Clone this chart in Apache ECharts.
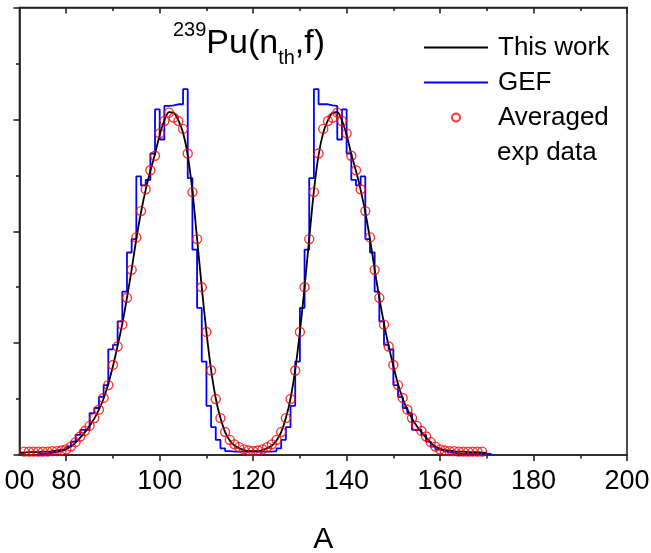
<!DOCTYPE html>
<html><head><meta charset="utf-8">
<script src="https://cdn.jsdelivr.net/npm/echarts@6/dist/echarts.min.js"></script>
<style>html,body{margin:0;padding:0;background:#fff}#c{width:651px;height:553px}</style>
</head><body><div id="c"></div>
<script>
// Mass number grid for the model curve ("This work")
const modelA = [70,71,72,73,74,75,76,77,78,79,80,81,82,83,84,85,86,87,88,89,90,91,92,93,94,95,96,97,98,99,
  100,101,102,103,104,105,106,107,108,109,110,111,112,113,114,115,116,117,118,119,120,
  121,122,123,124,125,126,127,128,129,130,131,132,133,134,135,136,137,138,139,140,
  141,142,143,144,145,146,147,148,149,150,151,152,153,154,155,156,157,158,159,160,
  161,162,163,164,165,166,167,168,169,170];
const thisWork = [0.04,0.04,0.05,0.05,0.05,0.06,0.06,0.07,0.08,0.09,
  0.11,0.15,0.22,0.31,0.41,0.52,0.65,0.81,1.01,1.27,
  1.59,1.95,2.35,2.81,3.32,3.86,4.34,4.74,5.08,5.38,
  5.72,5.98,6.13,6.12,5.98,5.76,5.36,4.72,3.87,3.00,
  2.20,1.52,1.01,0.66,0.41,0.26,0.17,0.12,0.09,0.07,
  0.07,
  0.07,0.09,0.12,0.17,0.26,0.41,0.66,1.01,1.52,2.20,
  3.00,3.87,4.72,5.36,5.76,5.98,6.12,6.13,5.98,5.72,
  5.38,5.08,4.74,4.34,3.86,3.32,2.81,2.35,1.95,1.59,
  1.27,1.01,0.81,0.65,0.52,0.41,0.31,0.22,0.15,0.11,
  0.09,0.08,0.07,0.06,0.06,0.05,0.05,0.05,0.04,0.04];

// GEF histogram: value for bin [A, A+1]
const gefA = [74,75,76,77,78,79,80,81,82,83,84,85,86,87,88,89,90,91,92,93,94,95,96,97,98,99,
  100,101,102,103,104,105,106,107,108,109,110,111,112,113,114,115,116,117,118,119,120,
  121,122,123,124,125,126,127,128,129,130,131,132,133,134,135,136,137,138,139,140,
  141,142,143,144,145,146,147,148,149,150,151,152,153,154,155,156,157,158,159,160,
  161,162,163,164,165,166,167,168,169,170,171];
const gefYield = [0.02,0.03,0.04,0.05,0.07,0.10,0.15,0.24,0.36,0.45,0.45,0.75,0.84,1.04,1.25,1.89,
  1.97,2.39,2.92,3.62,3.86,4.98,4.82,4.92,5.39,6.18,
  5.64,6.24,6.25,6.27,6.27,6.54,4.95,3.67,2.63,1.67,
  0.88,0.50,0.27,0.12,0.07,0.06,0.06,0.06,0.06,0.06,0.06,
  0.06,0.06,0.06,0.07,0.12,0.27,0.50,0.88,1.67,2.63,
  3.67,4.95,6.54,6.27,6.27,6.25,6.24,5.64,6.18,5.39,
  4.92,4.82,4.98,3.86,3.62,2.92,2.39,1.97,1.89,1.25,
  1.04,0.84,0.75,0.45,0.45,0.36,0.24,0.15,0.10,0.07,
  0.05,0.04,0.03,0.02,0.02,0.02,0.02,0.02,0.02,0.02,0.02];

// Averaged experimental data
const expA = [71,72,73,74,75,76,77,78,79,80,81,82,83,84,85,86,87,88,89,90,91,92,93,94,95,96,97,98,99,
  100,101,102,103,104,105,106,107,108,109,110,111,112,113,114,115,116,117,118,119,120,
  121,122,123,124,125,126,127,128,129,130,131,132,133,134,135,136,137,138,139,140,
  141,142,143,144,145,146,147,148,149,150,151,152,153,154,155,156,157,158,159,160,
  161,162,163,164,165,166,167,168,169];
const expYield = [0.06,0.06,0.06,0.06,0.06,0.06,0.07,0.07,0.08,
  0.10,0.15,0.23,0.33,0.43,0.52,0.66,0.81,1.02,1.25,
  1.61,1.94,2.33,2.81,3.31,3.89,4.36,4.75,5.09,5.35,
  5.75,5.97,6.12,6.03,5.97,5.83,5.39,4.70,3.86,3.00,
  2.20,1.51,1.00,0.66,0.41,0.27,0.19,0.14,0.10,0.08,
  0.07,
  0.08,0.10,0.14,0.19,0.27,0.41,0.66,1.00,1.51,2.20,
  3.00,3.86,4.70,5.39,5.83,5.97,6.03,6.12,5.97,5.75,
  5.35,5.09,4.75,4.36,3.89,3.31,2.81,2.33,1.94,1.61,
  1.25,1.02,0.81,0.66,0.52,0.43,0.33,0.23,0.15,0.10,
  0.08,0.07,0.07,0.06,0.06,0.06,0.06,0.06,0.06];

const xMajorTicks = [80,100,120,140,160,180,200];
const xMinorTicks = [90,110,130,150,170,190];
const xLabelValues = [70,80,100,120,140,160,180,200];
const xLabelTexts = ['00','80','100','120','140','160','180','200'];

const FONT = '"Liberation Sans", Arial, Helvetica, sans-serif';
const AX = '#222';

const chart = echarts.init(document.getElementById('c'), null, {renderer: 'canvas'});

function xAxisDef(pos, ticks, len, showLine, labels) {
  return {
    type: 'value', position: pos, min: 70, max: 200,
    axisLine: {show: showLine, onZero: false, lineStyle: {color: AX, width: 1.6}},
    axisTick: {show: true, inside: pos === 'top', length: len, customValues: ticks,
               lineStyle: {color: AX, width: 1.6}},
    axisLabel: labels ? {show: true, customValues: xLabelValues, margin: 13, fontSize: 27,
               color: '#000', fontFamily: FONT,
               formatter: v => xLabelTexts[xLabelValues.indexOf(v)]} : {show: false},
    splitLine: {show: false}
  };
}

const xAxes = [
  xAxisDef('bottom', xMajorTicks, 6, true, true),
  xAxisDef('bottom', xMinorTicks, 3.5, false, false),
  xAxisDef('top', xMajorTicks, 6, true, false),
  xAxisDef('top', xMinorTicks, 3.5, false, false)
];
Object.assign(xAxes[0], {name: 'A', nameLocation: 'middle', nameGap: 70,
  nameTextStyle: {fontSize: 30, color: '#000', fontFamily: FONT}});

const rs = {color: '#000', fontFamily: FONT, fontWeight: 'normal'};

chart.setOption({
  animation: false,
  backgroundColor: '#fff',
  textStyle: {fontFamily: FONT},
  grid: {left: 19.5, right: 24, top: 7.5, bottom: 98, show: true,
         outerBoundsMode: 'none', containLabel: false,
         borderColor: AX, borderWidth: 1.6, backgroundColor: 'transparent'},
  title: {
    text: '{sup|239}{m|Pu(n}{sub|th}{m|,f)}',
    left: 173, top: 20, padding: 0,
    textStyle: {fontWeight: 'normal', rich: {
      m: Object.assign({fontSize: 34, lineHeight: 48, verticalAlign: 'middle'}, rs),
      sup: Object.assign({fontSize: 20, lineHeight: 33, verticalAlign: 'top'}, rs),
      sub: Object.assign({fontSize: 20, lineHeight: 8, verticalAlign: 'bottom'}, rs)
    }}
  },
  legend: {
    orient: 'vertical', left: 423, top: 30, padding: 0, itemGap: 0,
    itemWidth: 64, itemHeight: 8,
    textStyle: {fontSize: 26, lineHeight: 35, color: '#000', fontFamily: FONT, padding: [0, 0, 0, 5]},
    data: [
      {name: 'This work', itemStyle: {opacity: 0}},
      {name: 'GEF', itemStyle: {opacity: 0}},
      {name: 'Averaged'}
    ]
  },
  graphic: [{
    type: 'text', x: 497, y: 152.5,
    style: {text: 'exp data', fontSize: 26, fontFamily: FONT, fill: '#000',
            verticalAlign: 'middle', align: 'left'}
  }],
  xAxis: xAxes,
  yAxis: {
    type: 'value', min: 0, max: 8, interval: 2,
    axisLine: {show: true, lineStyle: {color: AX, width: 1.6}},
    axisTick: {show: true, length: 6, lineStyle: {color: AX, width: 1.6}},
    minorTick: {show: true, splitNumber: 2, length: 3.5, lineStyle: {color: AX, width: 1.6}},
    axisLabel: {show: false},
    splitLine: {show: false}, minorSplitLine: {show: false}
  },
  series: [
    {
      name: 'GEF', type: 'line', xAxisIndex: 0, step: 'end', symbol: 'none',
      data: gefA.map((a, i) => [a, gefYield[i]]),
      lineStyle: {color: '#0000ff', width: 1.8}, itemStyle: {color: '#0000ff'}, z: 2
    },
    {
      name: 'This work', type: 'line', xAxisIndex: 0, symbol: 'none', smooth: 0.3,
      data: modelA.map((a, i) => [a, thisWork[i]]),
      lineStyle: {color: '#000', width: 1.8}, itemStyle: {color: '#000'}, z: 3
    },
    {
      name: 'Averaged', type: 'scatter', xAxisIndex: 0, symbol: 'circle', symbolSize: 9,
      data: expA.map((a, i) => [a, expYield[i]]),
      itemStyle: {color: 'rgba(255,255,255,0)', borderColor: '#ff0000', borderWidth: 1.4}, z: 4
    }
  ]
});
</script>
</body></html>
